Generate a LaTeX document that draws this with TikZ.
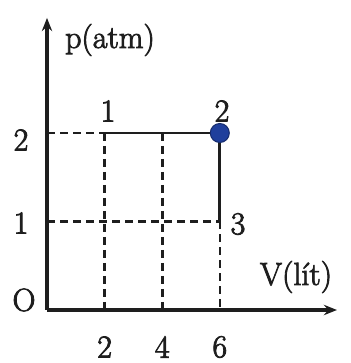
\documentclass[tikz,border=0pt]{standalone}
\usepackage{fontspec}
\newfontfamily\labfont{Latin Modern Roman}[FakeBold=2.6]
\usepackage{xcolor}
\definecolor{ink}{HTML}{1E1E1E}
\definecolor{dotc}{HTML}{1F3F9C}
\usepackage{tikz}
\usetikzlibrary{arrows.meta,positioning,calc}
\tikzset{
  >={Stealth[length=4.6mm,width=3.6mm]},
  axis/.style={->,draw=ink,line width=3.2pt},
  path/.style={draw=ink,line width=2.9pt},
  guide/.style={draw=ink,line width=2.6pt,dash pattern=on 8pt off 5pt},
  lab/.style={font=\labfont\fontsize{32}{38}\selectfont,text=ink,inner sep=0pt},
  state/.style={circle,fill=dotc,draw=dotc!70!black,line width=1pt,minimum size=19pt,inner sep=0pt},
}
\begin{document}
\begin{tikzpicture}[x=28.8pt,y=88.5pt]
\useasboundingbox (-47pt,-53pt) rectangle (303pt,310pt);
\coordinate (O) at (0,0);
\coordinate (ytop) at (0,3.3);
\coordinate (xend) at (10.07,0);
\coordinate (y1) at (0,1); \coordinate (y2) at (0,2);
\coordinate (x2) at (2,0); \coordinate (x4) at (4,0); \coordinate (x6) at (6,0);
\coordinate (s1) at (2,2); \coordinate (m4) at (4,2);
\coordinate (s2) at (6,2); \coordinate (s3) at (6,1);
% guide lines
\draw[guide] (y2)--(s1); \draw[guide] (y1)--(s3);
\draw[guide] (s1)--(x2); \draw[guide] (m4)--(x4); \draw[guide] (s3)--(x6);
% process
\draw[path] (s1)--(s2)--(s3);
\draw[axis] (O)--(ytop);
\draw[axis] (O)--(xend);
\node[state] (d2) at (s2) {};
% labels
\node[lab] (pl) at (63pt,270pt) {p(atm)};
\node[lab] (vl) at (249pt,33pt) {V(lít)};
\node[lab] (ol) at (-23pt,10pt) {O};
\node[lab] (py2) at (-26pt,170pt) {2};
\node[lab] (py1) at (-26pt,87pt) {1};
\node[lab] (n1) at (61pt,199pt) {1};
\node[lab] (n2) at (175pt,199pt) {2};
\node[lab] (n3) at (191pt,86pt) {3};
\foreach \v in {2,4,6}
  \node[lab] (vx\v) at ($(x\v)+(0,-37pt)$) {\v};
\end{tikzpicture}
\end{document}
